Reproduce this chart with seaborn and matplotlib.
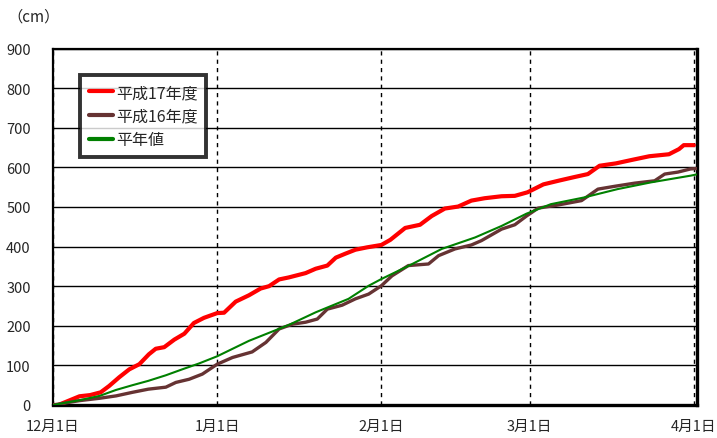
import matplotlib
matplotlib.use("Agg")
import matplotlib.pyplot as plt
import pandas as pd
import seaborn as sns

# days counted from 12月1日 (0) to 4月1日 (121), cumulative snowfall in cm
h17_day = [0, 1, 3, 5, 7, 9, 10.6, 12.5, 14.4, 16.3, 18.1, 19.4, 21, 22.9, 24.8,
           26.6, 28.5, 31, 32.3, 34.5, 37, 39.2, 40.8, 42.7, 44.5, 47.7, 49.6,
           51.8, 53.4, 55.2, 57.1, 59.3, 62, 63.7, 66.5, 69.3, 71.5, 74, 76.5,
           79, 81.5, 84.7, 87.2, 89.6, 92.6, 95.7, 98.3, 101, 103.2, 106.3,
           109.4, 112.6, 116.3, 118.2, 119.1, 121]
h17_val = [0, 0, 11, 22, 25, 32, 48, 70, 90, 103, 128, 142, 146, 165, 180,
           207, 220, 232, 233, 261, 277, 294, 300, 317, 322, 333, 344,
           352, 372, 382, 392, 398, 404, 417, 447, 455, 477, 496, 501,
           516, 522, 527, 528, 537, 557, 567, 575, 583, 604, 610,
           619, 628, 633, 646, 656, 656]

h16_day = [0, 5, 8.8, 11.9, 15, 18, 21.3, 23.2, 25.7, 28.2, 31, 33.9, 37.6,
           40.2, 42.7, 45.2, 47.7, 49.9, 51.8, 54.6, 57.1, 59.6, 62, 64, 67.1,
           70.9, 72.8, 75.9, 79, 80.9, 84.7, 87.2, 89.4, 91.6, 95.4, 99.8,
           102.9, 106, 109.8, 113.6, 115.5, 118, 120.4, 121.5]
h16_val = [0, 11, 17, 23, 32, 40, 45, 57, 65, 78, 103, 120, 134,
           158, 192, 204, 209, 217, 242, 252, 268, 280, 301, 326, 352,
           356, 377, 394, 404, 415, 444, 455, 477, 497, 505, 516,
           545, 552, 560, 566, 583, 588, 596, 597]

avg_day = [0, 5, 8.8, 11.9, 15, 18, 21.3, 24.4, 27.6, 31, 37, 44.5, 49.6,
           55.8, 59.6, 62, 67.1, 73.4, 79.7, 84.7, 89.4, 94, 100.3, 106.6,
           112.9, 120.4, 121.5]
avg_val = [0, 12, 23, 38, 50, 61, 75, 90, 105, 123, 162, 202, 234,
           268, 301, 318, 351, 394, 423, 452, 483, 507, 524, 545,
           562, 579, 582]

tick_days = [0, 31, 62, 90, 121]
tick_labels = ["12月1日", "1月1日", "2月1日", "3月1日", "4月1日"]
y_ticks = list(range(0, 901, 100))

sns.set_style("white")
plt.rcParams['font.family'] = ['Noto Sans CJK JP', 'DejaVu Sans']

fig = plt.figure(figsize=(7.17, 4.39), dpi=100)
ax = fig.add_axes([53 / 717, 1 - 406 / 439, 644 / 717, 356.5 / 439])

series = [
    ("平成17年度", h17_day, h17_val, "#ff0000", 3.0),
    ("平成16年度", h16_day, h16_val, "#663333", 2.4),
    ("平年値", avg_day, avg_val, "#008000", 1.5),
]
for name, d, v, c, lw in series:
    df = pd.DataFrame({"day": d, "cm": v})
    sns.lineplot(data=df, x="day", y="cm", color=c, linewidth=lw, label=name,
                 ax=ax, zorder=3)

ax.set_xlim(0, 121.6)
ax.set_ylim(0, 900)
ax.set_xticks(tick_days)
ax.set_xticklabels(tick_labels, fontsize=10.5)
ax.set_yticks(y_ticks)
ax.set_yticklabels([str(t) for t in y_ticks], fontsize=10.5)
ax.tick_params(length=0, pad=10)
ax.tick_params(axis='y', pad=16)
ax.set_xlabel("")
ax.set_ylabel("")

ax.set_axisbelow(True)
ax.grid(axis='y', color='black', linewidth=1, linestyle='-')
ax.grid(axis='x', color='black', linewidth=1, linestyle=(0, (3, 3)))

for side in ["left", "top"]:
    ax.spines[side].set_linewidth(1.6)
    ax.spines[side].set_color("black")
for side in ["right", "bottom"]:
    ax.spines[side].set_linewidth(2.4)
    ax.spines[side].set_color("black")

leg = ax.legend(loc="upper left", bbox_to_anchor=(0.042, 0.925), fontsize=11.5,
                frameon=True, fancybox=False, edgecolor="black",
                handlelength=1.5, handletextpad=0.2, labelspacing=0.42,
                borderpad=0.55, borderaxespad=0)
leg.get_frame().set_linewidth(2.8)
leg.set_zorder(5)
for line in leg.get_lines():
    line.set_linewidth(3.0)

fig.text(7 / 717, 1 - 17 / 439, "（cm）", fontsize=11, ha="left", va="center")

fig.savefig("out.png", dpi=100)
plt.close(fig)
